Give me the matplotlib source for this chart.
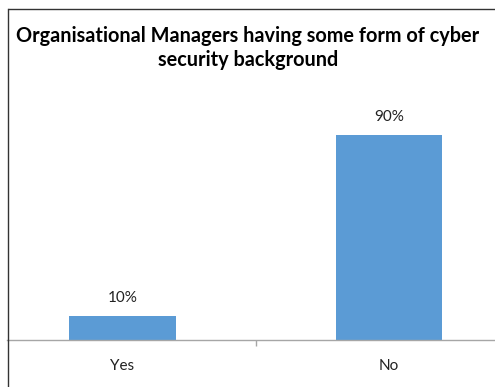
import matplotlib.pyplot as plt
from matplotlib.lines import Line2D

categories = ['Yes', 'No']
values = [10.5, 89.5]
value_labels = ['10%', '90%']
title = 'Organisational Managers having some form of cyber\nsecurity background'

W, H = 495, 387
fig = plt.figure(figsize=(W / 100, H / 100), dpi=100)
fig.patch.set_facecolor('white')

# axes placed in pixel terms: left border x=7, baseline y=340
ax_left, ax_right = 7, 495
ax_bottom, ax_top = 340, 100
ax = fig.add_axes([ax_left / W, (H - ax_bottom) / H,
                   (ax_right - ax_left) / W, (ax_bottom - ax_top) / H])
ax.patch.set_visible(False)

x = list(range(len(categories)))
ax.bar(x, values, width=0.40, color='#5B9BD5', zorder=2)
ax.set_xlim(-0.4334, 1.3977)
ax.set_ylim(0, 105)

for xi, v, lab in zip(x, values, value_labels):
    ax.annotate(lab, (xi, v), xytext=(0, 8), textcoords='offset points',
                ha='center', va='bottom', fontsize=11, family='Lato', color='#222222')

for s in ['top', 'right', 'left']:
    ax.spines[s].set_visible(False)
ax.spines['bottom'].set_color('#A6A6A6')
ax.spines['bottom'].set_linewidth(1.0)
ax.set_yticks([])
ax.set_xticks([0.5])
ax.set_xticklabels([''])
ax.tick_params(axis='x', length=4, color='#A6A6A6', width=1)
for xi, c in zip(x, categories):
    ax.annotate(c, (xi, 0), xytext=(0, -14), textcoords='offset points',
                ha='center', va='top', fontsize=11, family='Lato',
                color='#222222', annotation_clip=False)

fig.text(248 / W, 1 - 26 / H, title, ha='center', va='top', fontsize=14.3,
         fontweight='bold', family='Lato', color='black', linespacing=1.25)

# chart border (left and top visible)
fig.add_artist(Line2D([7.5 / W, 7.5 / W], [0, 1 - 9 / H], color='#333333', lw=1.0))
fig.add_artist(Line2D([7.5 / W, 0.999], [1 - 9 / H, 1 - 9 / H], color='#333333',
                      lw=1.0, solid_capstyle='butt'))

fig.savefig('out.png', dpi=100)
